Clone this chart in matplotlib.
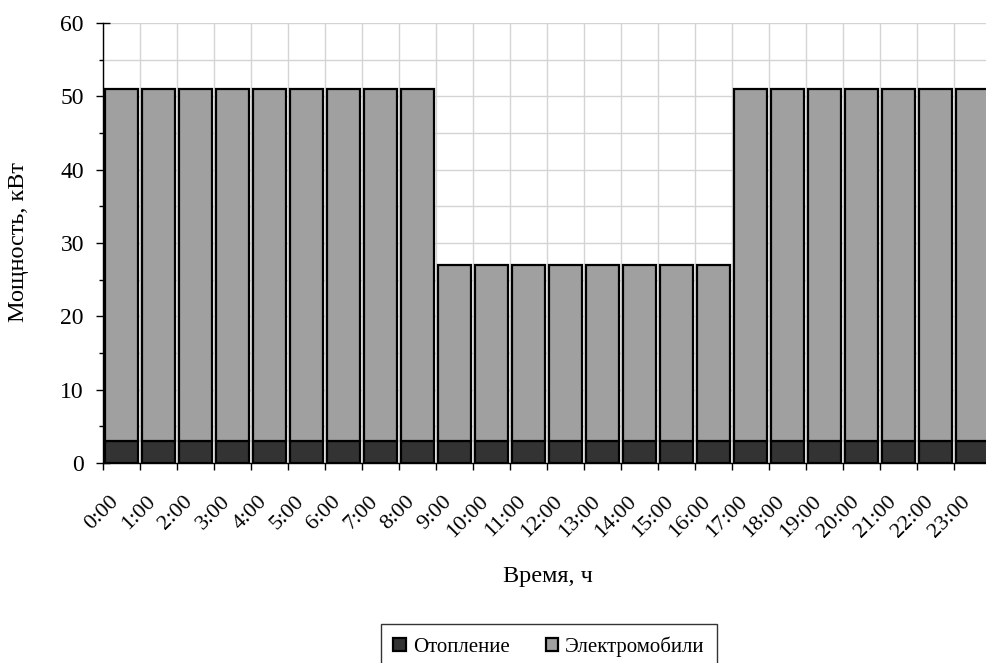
import matplotlib
matplotlib.use("Agg")
import matplotlib.pyplot as plt
import matplotlib.transforms as mtransforms
import numpy as np

hours = [f"{h}:00" for h in range(24)]
heating = [3] * 24
ev = [48]*9 + [24]*8 + [48]*7

plt.rcParams['font.family'] = ['Liberation Serif', 'DejaVu Serif']

fig = plt.figure(figsize=(9.87, 6.63), dpi=100)
ax = fig.add_axes([103/987, 1-463/663, 888/987, 440/663])

x = np.arange(len(hours))
w = 0.865
ax.bar(x, heating, width=w, color='#333333', edgecolor='black', linewidth=1.6, label='Отопление', zorder=3)
ax.bar(x, ev, width=w, bottom=heating, color='#a0a0a0', edgecolor='black', linewidth=1.6, label='Электромобили', zorder=3)

ax.set_xlim(-0.5, 23.5)
ax.set_ylim(0, 60)
ax.set_yticks(np.arange(0, 61, 10))
ax.set_yticks(np.arange(5, 60, 10), minor=True)
ax.set_xticks(np.arange(-0.5, 24, 1))
ax.set_xticklabels([])
ax.set_xticks(x, minor=True)
ax.set_xticklabels(hours, minor=True, rotation=45, ha='right', va='top',
                   rotation_mode='anchor', fontsize=16)
ax.tick_params(axis='x', which='minor', length=0, pad=21)
ax.tick_params(axis='x', which='major', direction='out', length=5, width=1)
ax.tick_params(axis='y', which='major', direction='inout', length=9.5, width=1, labelsize=17, pad=9)
ax.tick_params(axis='y', which='minor', direction='out', length=3, width=1)

offset = mtransforms.ScaledTranslation(-12/100, 0, fig.dpi_scale_trans)
for lab in ax.get_xticklabels(minor=True):
    lab.set_transform(lab.get_transform() + offset)

ax.grid(True, which='major', color='#d4d4d4', linewidth=1, zorder=0)
ax.grid(True, which='minor', axis='y', color='#d4d4d4', linewidth=1, zorder=0)
ax.set_axisbelow(True)
for s in ['top', 'right']:
    ax.spines[s].set_visible(False)
ax.spines['left'].set_linewidth(1)
ax.spines['bottom'].set_linewidth(1)

ax.set_ylabel('Мощность, кВт', fontsize=17.5)
ax.yaxis.set_label_coords(-0.083, 0.502)
ax.set_xlabel('Время, ч', fontsize=17.5)
ax.xaxis.set_label_coords(0.501, -0.234)

leg = fig.legend(loc='upper center', bbox_to_anchor=(549/987, 1-624/663), ncol=2, fontsize=15,
                 frameon=True, fancybox=False, edgecolor='black', handlelength=0.58, handleheight=0.58,
                 columnspacing=1.75, handletextpad=0.34, borderpad=0.6, borderaxespad=0)
leg.get_frame().set_linewidth(1)

fig.savefig('out.png', dpi=100)
